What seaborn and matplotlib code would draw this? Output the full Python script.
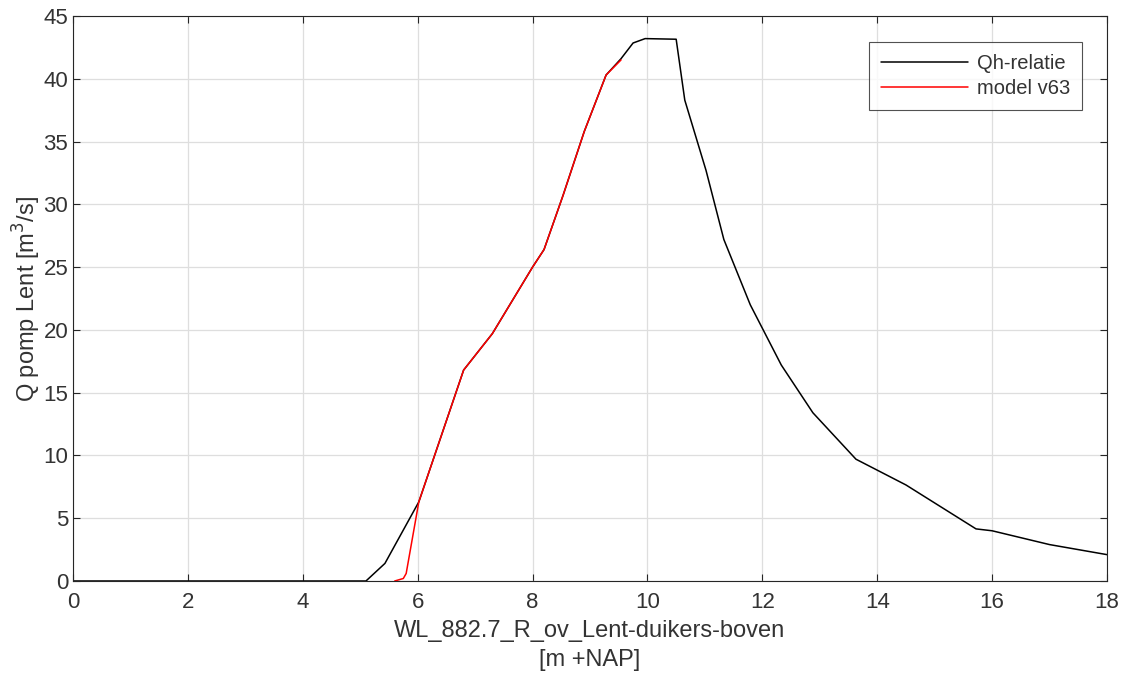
import matplotlib
matplotlib.use("Agg")
import matplotlib.pyplot as plt
import seaborn as sns
import pandas as pd

qh_x = [0, 5.1, 5.43, 6.02, 6.8, 7.3, 8.0, 8.2, 8.53, 8.9, 9.28, 9.54, 9.75, 9.96, 10.5, 10.65, 11.02, 11.33, 11.79, 12.33, 12.88, 13.63, 14.5, 15.72, 16.0, 17.0, 18.0]
qh_y = [0, 0, 1.4, 6.3, 16.8, 19.7, 25.0, 26.4, 30.7, 35.8, 40.3, 41.6, 42.85, 43.2, 43.15, 38.3, 32.7, 27.2, 22.0, 17.2, 13.4, 9.7, 7.65, 4.15, 4.0, 2.9, 2.1]

model_x = [5.6, 5.75, 5.8, 6.02, 6.8, 7.3, 8.0, 8.2, 8.53, 8.9, 9.28, 9.54]
model_y = [0, 0.2, 0.6, 6.3, 16.8, 19.7, 25.0, 26.4, 30.7, 35.8, 40.3, 41.5]

sns.set_style("white")
plt.rcParams['font.family'] = ['Liberation Sans', 'DejaVu Sans']

TXT = "#333333"
fig = plt.figure(figsize=(11.26, 6.77), dpi=100)
ax = fig.add_axes([73/1126, 1-581/677, (1107-73)/1126, (581-16)/677])

df_qh = pd.DataFrame({"x": qh_x, "y": qh_y})
df_m = pd.DataFrame({"x": model_x, "y": model_y})
sns.lineplot(data=df_qh, x="x", y="y", sort=False, color="black", lw=1.1, ax=ax, label="Qh-relatie")
sns.lineplot(data=df_m, x="x", y="y", sort=False, color="red", lw=1.1, ax=ax, label="model v63")

ax.set_xlim(0, 18)
ax.set_ylim(0, 45)
ax.set_xticks(range(0, 19, 2))
ax.set_yticks(range(0, 46, 5))
ax.grid(True, color="#dedede", lw=0.9)
ax.set_axisbelow(True)
for s in ax.spines.values():
    s.set_color("#262626")
    s.set_linewidth(0.8)
ax.tick_params(direction="in", length=5, width=0.8, colors="#262626", labelcolor=TXT,
               labelsize=16, top=True, right=True, bottom=True, left=True)
ax.tick_params(axis="x", pad=8)
ax.tick_params(axis="y", pad=3.5)
ax.set_xlabel("WL_882.7_R_ov_Lent-duikers-boven\n[m +NAP]", fontsize=17, color=TXT,
              labelpad=5, linespacing=1.4)
ax.set_ylabel("Q pomp Lent [m$^3$/s]", fontsize=17, color=TXT, labelpad=0.5)

leg = ax.legend(loc="upper right", bbox_to_anchor=(0.9758, 0.954), borderaxespad=0,
                fontsize=14.5, handlelength=4.3, frameon=True, fancybox=False,
                borderpad=0.6, labelspacing=0.3, handletextpad=0.45)
leg.get_frame().set_edgecolor("#262626")
leg.get_frame().set_linewidth(0.8)
for t in leg.get_texts():
    t.set_color(TXT)

fig.savefig("out.png", dpi=100, facecolor="white")
